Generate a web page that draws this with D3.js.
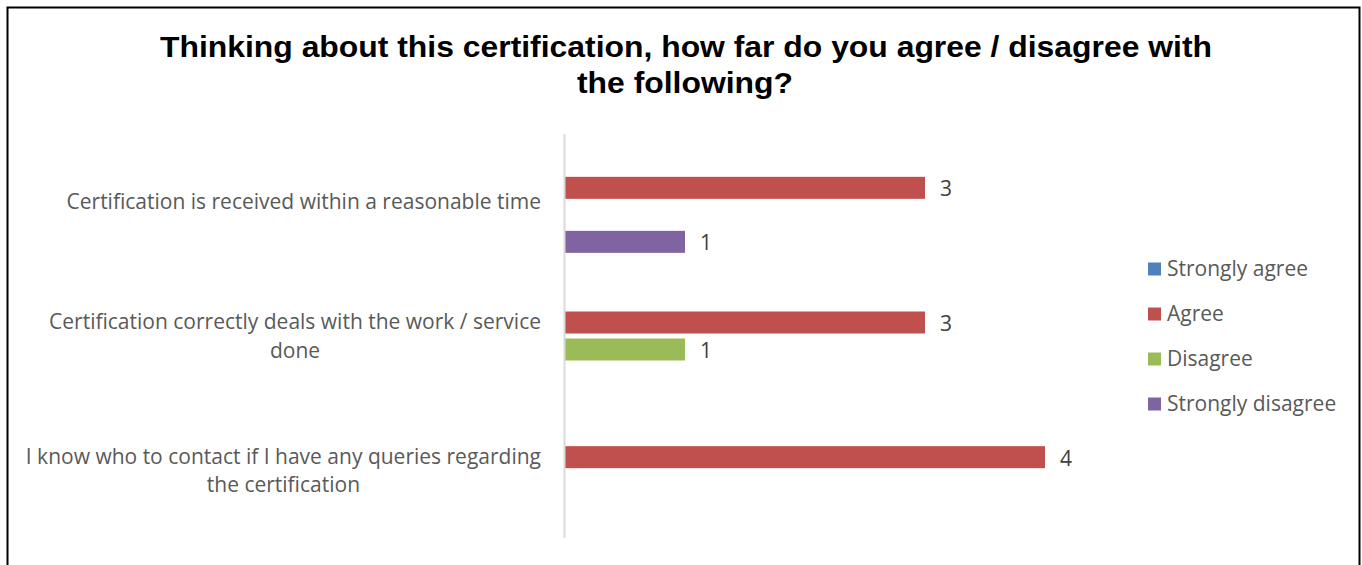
<!DOCTYPE html>
<html>
<head>
<meta charset="utf-8">
<script src="https://cdn.jsdelivr.net/npm/d3@7"></script>
<style>
  html, body { margin: 0; padding: 0; background: #fff; }
  svg { display: block; }
</style>
</head>
<body>
<svg id="chart" width="1362" height="565"></svg>
<script>
// Survey responses per statement
const categories = [
  "Certification is received within a reasonable time",
  "Certification correctly deals with the work / service done",
  "I know who to contact if I have any queries regarding the certification"
];
const seriesNames = ["Strongly agree", "Agree", "Disagree", "Strongly disagree"];
const stronglyAgree    = [0, 0, 0];
const agree            = [3, 3, 4];
const disagree         = [0, 1, 0];
const stronglyDisagree = [1, 0, 0];
const seriesColors = ["#4F81BD", "#C0504D", "#9BBB59", "#8064A2"];
const titleLines = [
  "Thinking about this certification, how far do you agree / disagree with",
  "the following?"
];

const seriesValues = [stronglyAgree, agree, disagree, stronglyDisagree];

const svg = d3.select("#chart");
const labelFont = "'Open Sans', 'Noto Sans', sans-serif";
const labelSize = 21;

// outer frame
svg.append("rect")
  .attr("x", 7.5).attr("y", 7.5)
  .attr("width", 1352).attr("height", 600)
  .attr("fill", "#fff")
  .attr("stroke", "#000")
  .attr("stroke-width", 2);

// title
const titleG = svg.append("g");
titleG.append("text")
  .attr("x", 686).attr("y", 57)
  .attr("text-anchor", "middle")
  .attr("font-family", "'Liberation Sans', Arial, sans-serif")
  .attr("font-weight", "bold")
  .attr("font-size", 30)
  .attr("textLength", 1052)
  .attr("lengthAdjust", "spacingAndGlyphs")
  .attr("fill", "#000")
  .text(titleLines[0]);
titleG.append("text")
  .attr("x", 685).attr("y", 93)
  .attr("text-anchor", "middle")
  .attr("font-family", "'Liberation Sans', Arial, sans-serif")
  .attr("font-weight", "bold")
  .attr("font-size", 30)
  .attr("textLength", 216)
  .attr("lengthAdjust", "spacingAndGlyphs")
  .attr("fill", "#000")
  .text(titleLines[1]);

// scales
const plotTop = 134, plotBottom = 538, plotLeft = 565;
const x = d3.scaleLinear().domain([0, 4]).range([plotLeft, plotLeft + 480]);
const y0 = d3.scaleBand().domain(categories).range([plotTop, plotBottom]).padding(0);
const y1 = d3.scaleBand().domain(seriesNames)
  .range([0, y0.bandwidth()])
  .paddingInner(0.185)
  .paddingOuter(0.586);
const color = d3.scaleOrdinal().domain(seriesNames).range(seriesColors);

// bars
const rows = [];
categories.forEach((c, i) => {
  seriesNames.forEach((s, j) => {
    rows.push({ category: c, series: s, value: seriesValues[j][i] });
  });
});
const visible = rows.filter(d => d.value > 0);

svg.append("g").selectAll("rect")
  .data(visible)
  .join("rect")
  .attr("x", x(0))
  .attr("y", d => y0(d.category) + y1(d.series))
  .attr("width", d => x(d.value) - x(0))
  .attr("height", y1.bandwidth())
  .attr("fill", d => color(d.series));

// value labels
svg.append("g").selectAll("text")
  .data(visible)
  .join("text")
  .attr("x", d => x(d.value) + 15)
  .attr("y", d => y0(d.category) + y1(d.series) + y1.bandwidth() / 2 + 1)
  .attr("dy", "0.35em")
  .attr("font-family", labelFont)
  .attr("font-size", labelSize)
  .attr("fill", "#404040")
  .text(d => d.value);

// category axis line
svg.append("line")
  .attr("x1", plotLeft - 0.5).attr("x2", plotLeft - 0.5)
  .attr("y1", plotTop).attr("y2", plotBottom)
  .attr("stroke", "#D9D9D9")
  .attr("stroke-width", 2);

// category labels, wrapped and centred per block, right edge at the axis gap
const labelRight = 541, maxLabelWidth = 530, lineHeight = 28.5;
const catG = svg.append("g");
categories.forEach(c => {
  const t = catG.append("text")
    .attr("font-family", labelFont)
    .attr("font-size", labelSize)
    .attr("fill", "#595959")
    .attr("text-anchor", "middle");
  // greedy word wrap
  const words = c.split(" ");
  const lines = [];
  let line = [];
  const probe = t.append("tspan");
  words.forEach(w => {
    const trial = line.concat(w).join(" ");
    probe.text(trial);
    if (probe.node().getComputedTextLength() > maxLabelWidth && line.length) {
      lines.push(line.join(" "));
      line = [w];
    } else {
      line.push(w);
    }
  });
  lines.push(line.join(" "));
  // widest line determines the block centre
  let widest = 0;
  lines.forEach(l => {
    probe.text(l);
    widest = Math.max(widest, probe.node().getComputedTextLength());
  });
  probe.remove();
  const cx = labelRight - widest / 2;
  const cy = y0(c) + y0.bandwidth() / 2;
  const firstY = cy - (lines.length - 1) * lineHeight / 2;
  lines.forEach((l, k) => {
    t.append("tspan")
      .attr("x", cx)
      .attr("y", firstY + k * lineHeight)
      .attr("dy", "0.35em")
      .text(l);
  });
});

// legend
const legend = svg.append("g");
const legendY = d3.scalePoint().domain(seriesNames).range([269, 404]);
seriesNames.forEach(s => {
  legend.append("rect")
    .attr("x", 1148).attr("y", legendY(s) - 6.5)
    .attr("width", 13).attr("height", 13)
    .attr("fill", color(s));
  legend.append("text")
    .attr("x", 1167).attr("y", legendY(s))
    .attr("dy", "0.35em")
    .attr("font-family", labelFont)
    .attr("font-size", labelSize)
    .attr("fill", "#595959")
    .text(s);
});
</script>
</body>
</html>
